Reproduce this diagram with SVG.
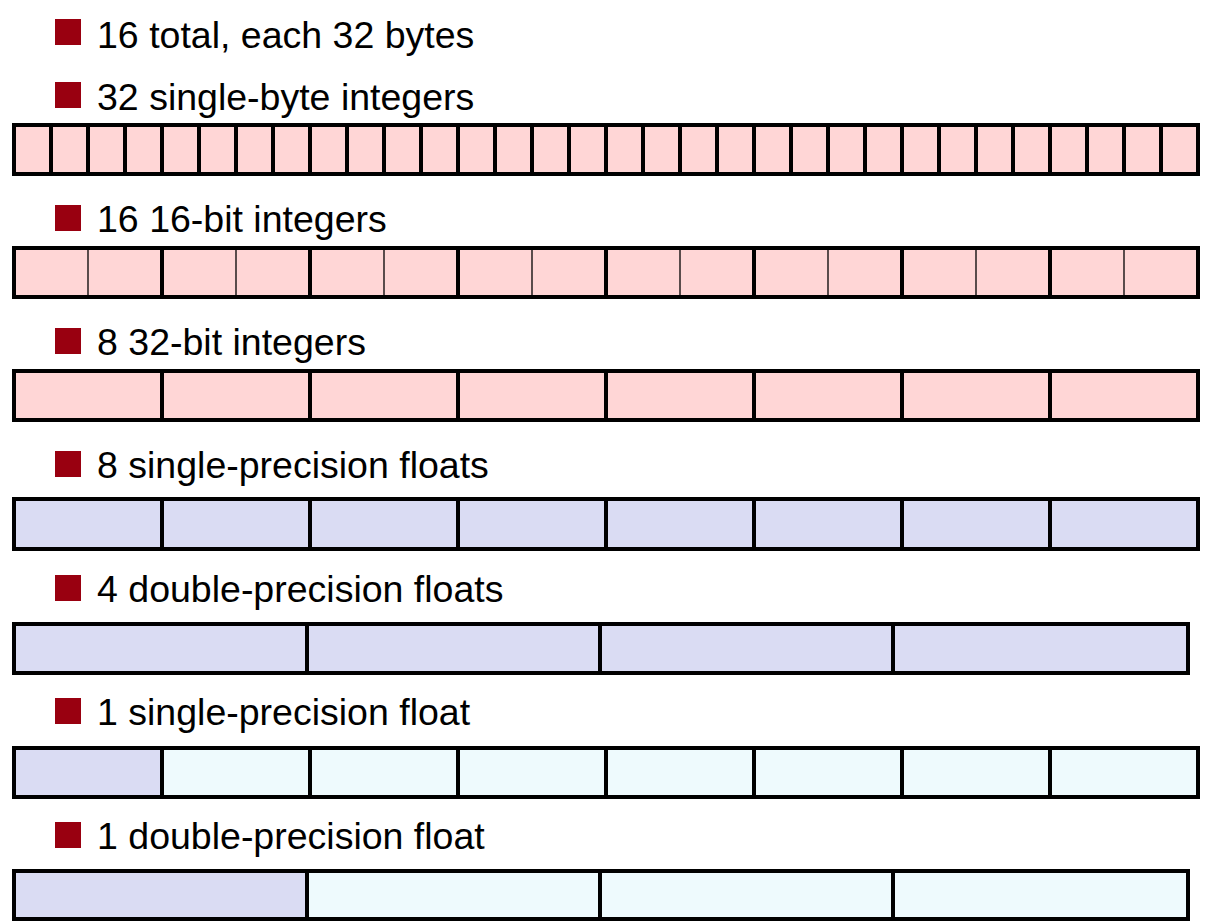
<svg xmlns="http://www.w3.org/2000/svg" width="1218" height="924" viewBox="0 0 1218 924">
<style>
.lbl{font-family:"Liberation Sans",Arial,sans-serif;font-size:37.5px;fill:#000}
.bul{fill:#990010}
.pink{fill:#FFD6D6}
.lav{fill:#DADCF3}
.cyan{fill:#EEFAFD}
.box{fill:none;stroke:#000;stroke-width:4}
.thick{stroke:#000;stroke-width:4}
.thin{stroke:#000;stroke-width:1.3}
</style>
<rect width="1218" height="924" fill="#fff"/>

<g id="item1">
<rect class="bul" x="55" y="19" width="26" height="26"/>
<text class="lbl" x="97" y="48">16 total, each 32 bytes</text>
</g>

<g id="item2">
<rect class="bul" x="55" y="82" width="26" height="26"/>
<text class="lbl" x="97" y="110">32 single-byte integers</text>
<rect class="pink" x="14" y="125" width="1184" height="49"/>
<g class="thick">
<line x1="51" y1="125" x2="51" y2="174"/><line x1="88" y1="125" x2="88" y2="174"/><line x1="125" y1="125" x2="125" y2="174"/><line x1="162" y1="125" x2="162" y2="174"/>
<line x1="199" y1="125" x2="199" y2="174"/><line x1="236" y1="125" x2="236" y2="174"/><line x1="273" y1="125" x2="273" y2="174"/><line x1="310" y1="125" x2="310" y2="174"/>
<line x1="347" y1="125" x2="347" y2="174"/><line x1="384" y1="125" x2="384" y2="174"/><line x1="421" y1="125" x2="421" y2="174"/><line x1="458" y1="125" x2="458" y2="174"/>
<line x1="495" y1="125" x2="495" y2="174"/><line x1="532" y1="125" x2="532" y2="174"/><line x1="569" y1="125" x2="569" y2="174"/><line x1="606" y1="125" x2="606" y2="174"/>
<line x1="643" y1="125" x2="643" y2="174"/><line x1="680" y1="125" x2="680" y2="174"/><line x1="717" y1="125" x2="717" y2="174"/><line x1="754" y1="125" x2="754" y2="174"/>
<line x1="791" y1="125" x2="791" y2="174"/><line x1="828" y1="125" x2="828" y2="174"/><line x1="865" y1="125" x2="865" y2="174"/><line x1="902" y1="125" x2="902" y2="174"/>
<line x1="939" y1="125" x2="939" y2="174"/><line x1="976" y1="125" x2="976" y2="174"/><line x1="1013" y1="125" x2="1013" y2="174"/><line x1="1050" y1="125" x2="1050" y2="174"/>
<line x1="1087" y1="125" x2="1087" y2="174"/><line x1="1124" y1="125" x2="1124" y2="174"/><line x1="1161" y1="125" x2="1161" y2="174"/>
</g>
<rect class="box" x="14" y="125" width="1184" height="49"/>
</g>

<g id="item3">
<rect class="bul" x="55" y="205" width="26" height="26"/>
<text class="lbl" x="97" y="232">16 16-bit integers</text>
<rect class="pink" x="14" y="248" width="1184" height="49"/>
<g class="thin">
<line x1="88" y1="248" x2="88" y2="297"/><line x1="236" y1="248" x2="236" y2="297"/><line x1="384" y1="248" x2="384" y2="297"/><line x1="532" y1="248" x2="532" y2="297"/>
<line x1="680" y1="248" x2="680" y2="297"/><line x1="828" y1="248" x2="828" y2="297"/><line x1="976" y1="248" x2="976" y2="297"/><line x1="1124" y1="248" x2="1124" y2="297"/>
</g>
<g class="thick">
<line x1="162" y1="248" x2="162" y2="297"/><line x1="310" y1="248" x2="310" y2="297"/><line x1="458" y1="248" x2="458" y2="297"/><line x1="606" y1="248" x2="606" y2="297"/>
<line x1="754" y1="248" x2="754" y2="297"/><line x1="902" y1="248" x2="902" y2="297"/><line x1="1050" y1="248" x2="1050" y2="297"/>
</g>
<rect class="box" x="14" y="248" width="1184" height="49"/>
</g>

<g id="item4">
<rect class="bul" x="55" y="328" width="26" height="26"/>
<text class="lbl" x="97" y="355">8 32-bit integers</text>
<rect class="pink" x="14" y="371" width="1184" height="49"/>
<g class="thick">
<line x1="162" y1="371" x2="162" y2="420"/><line x1="310" y1="371" x2="310" y2="420"/><line x1="458" y1="371" x2="458" y2="420"/><line x1="606" y1="371" x2="606" y2="420"/>
<line x1="754" y1="371" x2="754" y2="420"/><line x1="902" y1="371" x2="902" y2="420"/><line x1="1050" y1="371" x2="1050" y2="420"/>
</g>
<rect class="box" x="14" y="371" width="1184" height="49"/>
</g>

<g id="item5">
<rect class="bul" x="55" y="451" width="26" height="26"/>
<text class="lbl" x="97" y="478">8 single-precision floats</text>
<rect class="lav" x="14" y="499" width="1184" height="50"/>
<g class="thick">
<line x1="162" y1="499" x2="162" y2="549"/><line x1="310" y1="499" x2="310" y2="549"/><line x1="458" y1="499" x2="458" y2="549"/><line x1="606" y1="499" x2="606" y2="549"/>
<line x1="754" y1="499" x2="754" y2="549"/><line x1="902" y1="499" x2="902" y2="549"/><line x1="1050" y1="499" x2="1050" y2="549"/>
</g>
<rect class="box" x="14" y="499" width="1184" height="50"/>
</g>

<g id="item6">
<rect class="bul" x="55" y="575" width="26" height="26"/>
<text class="lbl" x="97" y="602">4 double-precision floats</text>
<rect class="lav" x="14" y="624" width="1174" height="49"/>
<g class="thick">
<line x1="307" y1="624" x2="307" y2="673"/><line x1="600" y1="624" x2="600" y2="673"/><line x1="893" y1="624" x2="893" y2="673"/>
</g>
<rect class="box" x="14" y="624" width="1174" height="49"/>
</g>

<g id="item7">
<rect class="bul" x="55" y="698" width="26" height="26"/>
<text class="lbl" x="97" y="725">1 single-precision float</text>
<rect class="cyan" x="14" y="748" width="1184" height="49"/>
<rect class="lav" x="14" y="748" width="148" height="49"/>
<g class="thick">
<line x1="162" y1="748" x2="162" y2="797"/><line x1="310" y1="748" x2="310" y2="797"/><line x1="458" y1="748" x2="458" y2="797"/><line x1="606" y1="748" x2="606" y2="797"/>
<line x1="754" y1="748" x2="754" y2="797"/><line x1="902" y1="748" x2="902" y2="797"/><line x1="1050" y1="748" x2="1050" y2="797"/>
</g>
<rect class="box" x="14" y="748" width="1184" height="49"/>
</g>

<g id="item8">
<rect class="bul" x="55" y="822" width="26" height="26"/>
<text class="lbl" x="97" y="849">1 double-precision float</text>
<rect class="cyan" x="14" y="871" width="1174" height="48"/>
<rect class="lav" x="14" y="871" width="293" height="48"/>
<g class="thick">
<line x1="307" y1="871" x2="307" y2="919"/><line x1="600" y1="871" x2="600" y2="919"/><line x1="893" y1="871" x2="893" y2="919"/>
</g>
<rect class="box" x="14" y="871" width="1174" height="48"/>
</g>
</svg>
